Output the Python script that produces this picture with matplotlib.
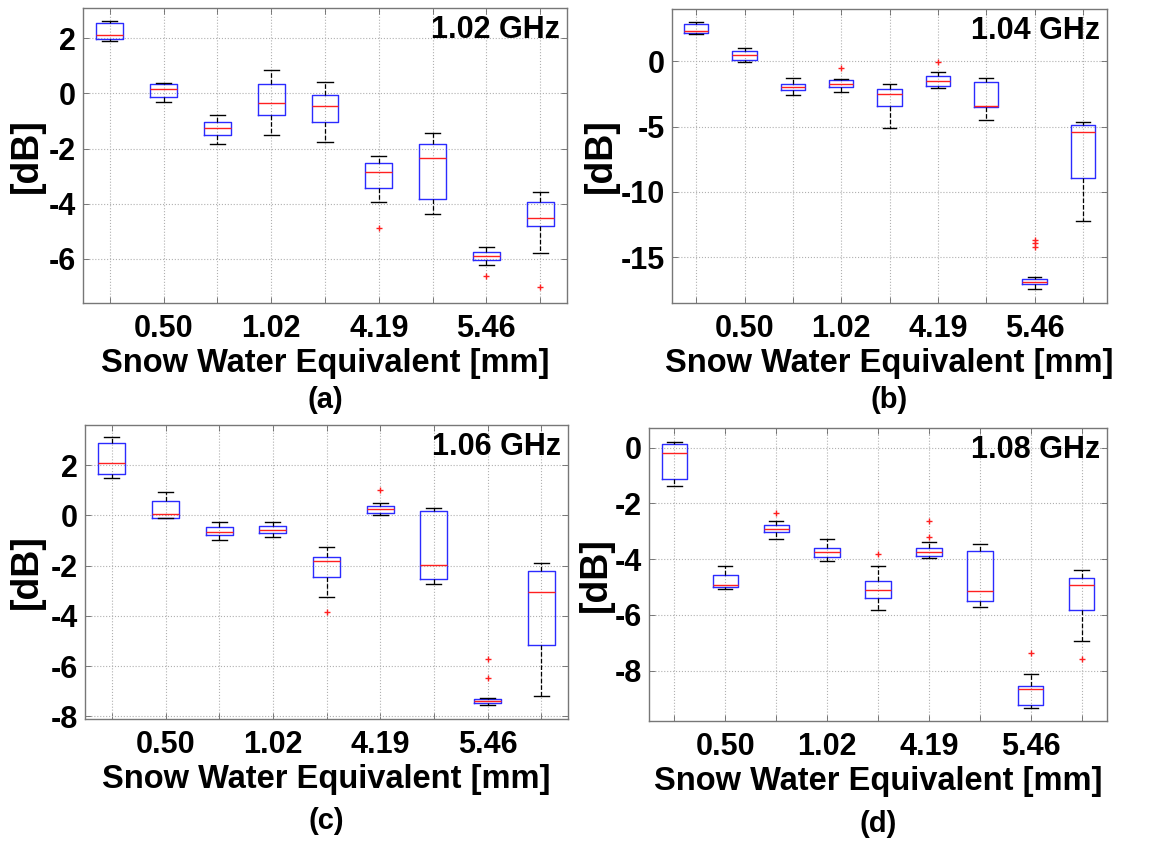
import matplotlib
matplotlib.use("Agg")
import matplotlib.pyplot as plt
from matplotlib.ticker import FixedLocator

plt.rcParams["font.family"] = ["Liberation Sans", "DejaVu Sans"]
plt.rcParams["font.weight"] = "bold"

positions = [1, 2, 3, 4, 5, 6, 7, 8, 9]
swe_labels = ["", "0.50", "", "1.02", "", "4.19", "", "5.46", ""]
freq_labels = ["1.02 GHz", "1.04 GHz", "1.06 GHz", "1.08 GHz"]
panel_tags = ["(a)", "(b)", "(c)", "(d)"]

# 1.02 GHz
med_a = [2.12, 0.16, -1.27, -0.33, -0.44, -2.84, -2.35, -5.88, -4.53]
q1_a = [1.98, -0.13, -1.52, -0.79, -1.05, -3.42, -3.81, -6.05, -4.82]
q3_a = [2.55, 0.33, -1.05, 0.33, -0.05, -2.51, -1.82, -5.76, -3.92]
lo_a = [1.89, -0.32, -1.83, -1.49, -1.77, -3.93, -4.36, -6.23, -5.78]
hi_a = [2.64, 0.38, -0.79, 0.85, 0.40, -2.28, -1.44, -5.56, -3.58]
out_a = [[], [], [], [], [], [-4.88], [], [-6.61], [-7.02]]

# 1.04 GHz
med_b = [2.32, 0.46, -1.96, -1.71, -2.53, -1.48, -3.44, -16.89, -5.43]
q1_b = [2.17, 0.13, -2.17, -1.96, -3.39, -1.89, -3.52, -17.07, -8.93]
q3_b = [2.88, 0.77, -1.71, -1.45, -2.09, -1.12, -1.58, -16.66, -4.85]
lo_b = [2.12, -0.08, -2.58, -2.37, -5.10, -2.04, -4.46, -17.42, -12.24]
hi_b = [2.98, 1.02, -1.28, -1.35, -1.71, -0.84, -1.25, -16.48, -4.67]
out_b = [[], [], [], [-0.54], [], [-0.08], [], [-13.65, -13.90, -14.21], []]

# 1.06 GHz
med_c = [2.07, 0.04, -0.64, -0.56, -1.83, 0.27, -1.99, -7.39, -3.04]
q1_c = [1.64, -0.10, -0.77, -0.71, -2.45, 0.09, -2.51, -7.47, -5.17]
q3_c = [2.88, 0.59, -0.47, -0.43, -1.64, 0.37, 0.16, -7.31, -2.20]
lo_c = [1.51, -0.12, -0.96, -0.84, -3.24, 0.01, -2.73, -7.56, -7.20]
hi_c = [3.11, 0.93, -0.28, -0.28, -1.27, 0.51, 0.28, -7.25, -1.91]
out_c = [[], [], [], [], [-3.85], [1.00], [], [-5.73, -6.47], []]

# 1.08 GHz
med_d = [-0.18, -4.93, -2.91, -3.75, -5.10, -3.76, -5.15, -8.66, -4.92]
q1_d = [-1.11, -5.01, -3.04, -3.94, -5.38, -3.89, -5.51, -9.21, -5.82]
q3_d = [0.12, -4.56, -2.78, -3.60, -4.77, -3.60, -3.72, -8.54, -4.66]
lo_d = [-1.39, -5.07, -3.28, -4.07, -5.81, -3.95, -5.70, -9.33, -6.92]
hi_d = [0.20, -4.24, -2.63, -3.28, -4.26, -3.40, -3.44, -8.10, -4.38]
out_d = [[], [], [-2.34], [], [-3.82], [-2.63, -3.21], [], [-7.38], [-7.57]]

panels = [
    (med_a, q1_a, q3_a, lo_a, hi_a, out_a),
    (med_b, q1_b, q3_b, lo_b, hi_b, out_b),
    (med_c, q1_c, q3_c, lo_c, hi_c, out_c),
    (med_d, q1_d, q3_d, lo_d, hi_d, out_d),
]
yticks = [[-6, -4, -2, 0, 2], [-15, -10, -5, 0], [-8, -6, -4, -2, 0, 2], [-8, -6, -4, -2, 0]]
ylims = [(-7.6, 3.1), (-18.5, 4.0), (-8.1, 3.6), (-9.8, 0.7)]

W, H = 1153, 848
# axes boxes in pixels: left, top, right, bottom
boxes_px = [(83, 8, 567, 303), (672, 9, 1107, 303), (85, 425, 568, 719), (649, 428, 1107, 721)]
ylabel_x = [27, 601, 27, 596]
tag_offset = [97, 97, 102, 103]

fig = plt.figure(figsize=(W / 100, H / 100), dpi=100)

for i, (med, q1, q3, lo, hi, out) in enumerate(panels):
    l, t, r, b = boxes_px[i]
    ax = fig.add_axes([l / W, 1 - b / H, (r - l) / W, (b - t) / H])
    stats = []
    for k in range(9):
        stats.append({"med": med[k], "q1": q1[k], "q3": q3[k],
                      "whislo": lo[k], "whishi": hi[k], "fliers": out[k]})
    ax.bxp(stats, positions=positions, widths=0.5, showfliers=True,
           boxprops=dict(color="#2b2bff", linewidth=1.0),
           medianprops=dict(color="#ff2020", linewidth=1.0),
           whiskerprops=dict(color="black", linewidth=0.9, linestyle="--"),
           capprops=dict(color="black", linewidth=1.0),
           capwidths=0.28,
           flierprops=dict(marker="+", markeredgecolor="#ff2020", markersize=5,
                           markeredgewidth=1.0, linestyle="none"))
    ax.set_xlim(0.5, 9.5)
    ax.set_ylim(*ylims[i])
    ax.xaxis.set_major_locator(FixedLocator(positions))
    ax.set_xticklabels(swe_labels)
    ax.yaxis.set_major_locator(FixedLocator(yticks[i]))
    ax.set_yticklabels([str(v) for v in yticks[i]])
    ax.tick_params(direction="in", length=4, width=0.6, color="#666666",
                   labelsize=22, pad=5, top=True, right=True)
    ax.tick_params(axis="x", pad=8)
    ax.grid(True, linestyle=":", color="#b0b0b0", linewidth=0.8)
    ax.set_axisbelow(True)
    for s in ax.spines.values():
        s.set_color("#777777")
        s.set_linewidth(1.0)
    ax.set_xlabel("Snow Water Equivalent [mm]", fontsize=23.5, fontweight="bold", labelpad=3)
    ax.text(0.985, 0.975, freq_labels[i], transform=ax.transAxes,
            ha="right", va="top", fontsize=22)
    fig.text(ylabel_x[i] / W, 1 - (t + b) / 2 / H, "[dB]", rotation=90,
             ha="center", va="center", fontsize=27)
    fig.text((l + r) / 2 / W, 1 - (b + tag_offset[i]) / H, panel_tags[i],
             ha="center", va="center", fontsize=21)

fig.savefig("out.png", dpi=100)
